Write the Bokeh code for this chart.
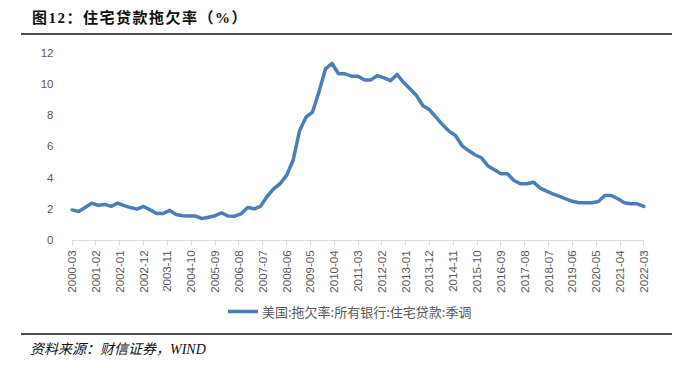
import math
from bokeh.plotting import figure
from bokeh.models import Range1d, FixedTicker, Legend, LegendItem, Div
from bokeh.layouts import column
from bokeh.embed import file_html
from bokeh.resources import INLINE

# ---- data (quarterly, 2000-03 .. 2022-03) ----
series_name = "美国:拖欠率:所有银行:住宅贷款:季调"
dates = [f"{2000 + (2 + 3 * i) // 12}-{(2 + 3 * i) % 12 + 1:02d}" for i in range(89)]
values = [
    1.95, 1.85, 2.10, 2.38, 2.25, 2.30, 2.18, 2.38, 2.22, 2.10,
    2.00, 2.17, 1.95, 1.72, 1.72, 1.92, 1.66, 1.58, 1.56, 1.56,
    1.40, 1.48, 1.58, 1.76, 1.56, 1.55, 1.70, 2.10, 2.02, 2.18,
    2.80, 3.30, 3.62, 4.15, 5.10, 7.00, 7.87, 8.20, 9.50, 10.96,
    11.30, 10.64, 10.64, 10.49, 10.49, 10.25, 10.25, 10.53, 10.38, 10.20,
    10.60, 10.10, 9.68, 9.25, 8.60, 8.34, 7.87, 7.40, 6.98, 6.70,
    6.06, 5.74, 5.47, 5.28, 4.76, 4.51, 4.26, 4.26, 3.83, 3.62,
    3.62, 3.72, 3.36, 3.15, 2.98, 2.81, 2.66, 2.50, 2.41, 2.41,
    2.41, 2.49, 2.87, 2.87, 2.66, 2.41, 2.34, 2.34, 2.17,
]
tick_labels = [
    "2000-03", "2001-02", "2002-01", "2002-12", "2003-11", "2004-10",
    "2005-09", "2006-08", "2007-07", "2008-06", "2009-05", "2010-04",
    "2011-03", "2012-02", "2013-01", "2013-12", "2014-11", "2015-10",
    "2016-09", "2017-08", "2018-07", "2019-06", "2020-05", "2021-04",
    "2022-03",
]
y_ticks = [0, 2, 4, 6, 8, 10, 12]
title_text = "图12：住宅贷款拖欠率（%）"
source_text = "资料来源：财信证券，WIND"


def month_index(s):
    y, m = map(int, s.split("-"))
    return (y - 2000) * 12 + (m - 3)


xs = [month_index(d) for d in dates]
x_ticks = [month_index(t) for t in tick_labels]

# frame spans the plot plus the space below the x axis (labels and legend);
# the x axis is pinned at y = 0 and bounded to the tick span
Y_BELOW = -5.43
X_PAD = 4
p = figure(width=683, height=298,
           x_range=Range1d(x_ticks[0] - X_PAD, x_ticks[-1] + X_PAD),
           y_range=Range1d(Y_BELOW, y_ticks[-1]),
           output_backend="svg", toolbar_location=None,
           min_border_left=63, min_border_right=31,
           min_border_top=17, min_border_bottom=8)
p.outline_line_color = None
p.grid.visible = False
p.background_fill_color = "white"
p.border_fill_color = "white"

r = p.line(xs, values, line_color="#4a7ebb", line_width=3.5, line_join="round", line_cap="round")

ax_font = "Liberation Sans"
p.yaxis.ticker = FixedTicker(ticks=y_ticks)
p.yaxis.axis_line_color = None
p.yaxis.major_tick_line_color = None
p.yaxis.minor_tick_line_color = None
p.yaxis.major_tick_out = 0
p.yaxis.major_tick_in = 0
p.yaxis.major_label_standoff = 10
p.yaxis.major_label_text_font = ax_font
p.yaxis.major_label_text_font_size = "11.5px"
p.yaxis.major_label_text_color = "#595959"

p.xaxis.fixed_location = 0
p.xaxis.bounds = (x_ticks[0], x_ticks[-1])
p.xaxis.ticker = FixedTicker(ticks=x_ticks)
p.xaxis.major_label_overrides = {t: l for t, l in zip(x_ticks, tick_labels)}
p.xaxis.major_label_orientation = math.pi / 2
p.xaxis.axis_line_color = "#d9d9d9"
p.xaxis.major_tick_line_color = "#d9d9d9"
p.xaxis.minor_tick_line_color = None
p.xaxis.major_tick_out = 5
p.xaxis.major_tick_in = 0
p.xaxis.major_label_standoff = 5
p.xaxis.major_label_text_font = ax_font
p.xaxis.major_label_text_font_size = "11.5px"
p.xaxis.major_label_text_color = "#595959"

legend = Legend(items=[LegendItem(label=series_name, renderers=[r])],
                location=(165, 4), orientation="horizontal",
                padding=0, margin=0, spacing=0,
                glyph_width=30, glyph_height=20, label_standoff=4,
                label_text_font="Noto Sans CJK SC", label_text_font_size="13px",
                label_text_color="#595959",
                border_line_color=None, background_fill_alpha=0)
p.add_layout(legend)

title_div = Div(
    text=(f'<div style="margin-left:21px;width:651px;height:33px;'
          f'border-bottom:2px solid #4d4d4d;box-sizing:content-box;">'
          f'<span style="display:inline-block;padding-left:11px;padding-top:8px;line-height:20px;'
          f'font-family:\'Liberation Serif\',\'Noto Sans CJK SC\';font-weight:bold;letter-spacing:1.5px;'
          f'font-size:15px;color:#111;">{title_text}</span></div>'),
    width=683, height=35, margin=0)

source_div = Div(
    text=(f'<div style="margin-left:21px;width:651px;border-top:2px solid #4d4d4d;">'
          f'<span style="display:inline-block;padding-left:9px;padding-top:6px;line-height:18px;'
          f'font-family:\'Liberation Serif\',\'Noto Sans CJK SC\';font-style:italic;'
          f'font-size:14px;color:#111;">{source_text}</span></div>'),
    width=683, height=35, margin=0)

layout = column(title_div, p, source_div, spacing=0)
open("out.html", "w").write(file_html(layout, INLINE))
